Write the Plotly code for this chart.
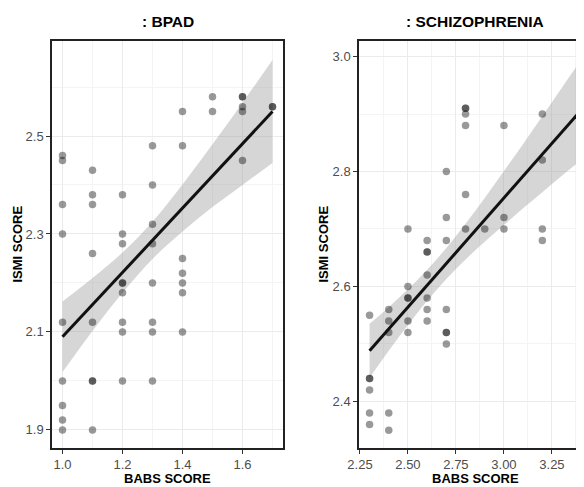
import plotly.graph_objects as go

# ---------------- data ----------------
bpad_x = [1.0]*9 + [1.1]*8 + [1.2]*9 + [1.3]*8 + [1.4]*7 + [1.5]*2 + [1.6]*5 + [1.7]*2
bpad_y = [2.46, 2.45, 2.36, 2.30, 2.12, 2.00, 1.95, 1.92, 1.90,
          2.43, 2.38, 2.36, 2.26, 2.12, 2.00, 2.00, 1.90,
          2.38, 2.30, 2.28, 2.20, 2.20, 2.18, 2.12, 2.10, 2.00,
          2.48, 2.40, 2.32, 2.28, 2.20, 2.12, 2.10, 2.00,
          2.55, 2.48, 2.25, 2.22, 2.20, 2.18, 2.10,
          2.58, 2.55,
          2.58, 2.58, 2.56, 2.55, 2.45,
          2.56, 2.56]

schiz_x = [2.3]*6 + [2.4]*5 + [2.5]*6 + [2.6]*7 + [2.7]*7 + [2.8]*6 + [2.9]*1 + [3.0]*3 + [3.2]*4 + [3.4]*1
schiz_y = [2.55, 2.44, 2.44, 2.42, 2.38, 2.36,
           2.56, 2.54, 2.52, 2.38, 2.35,
           2.70, 2.60, 2.58, 2.58, 2.54, 2.52,
           2.68, 2.66, 2.66, 2.62, 2.58, 2.56, 2.54,
           2.80, 2.72, 2.68, 2.56, 2.52, 2.52, 2.50,
           2.91, 2.91, 2.90, 2.88, 2.76, 2.70,
           2.70,
           2.88, 2.72, 2.70,
           2.90, 2.82, 2.70, 2.68,
           2.66]

# fitted line and confidence band
bpad_fit_x = [1.0, 1.1, 1.2, 1.3, 1.4, 1.5, 1.6, 1.7]
bpad_fit_y = [2.090, 2.156, 2.221, 2.287, 2.353, 2.419, 2.484, 2.550]
bpad_fit_lo = [2.018, 2.102, 2.180, 2.249, 2.305, 2.355, 2.400, 2.445]
bpad_fit_hi = [2.162, 2.210, 2.262, 2.325, 2.401, 2.483, 2.568, 2.655]

schiz_fit_x = [2.3, 2.4, 2.5, 2.6, 2.7, 2.8, 2.9, 3.0, 3.1, 3.2, 3.3, 3.4]
schiz_fit_y = [2.488, 2.526, 2.564, 2.602, 2.640, 2.678, 2.716, 2.754, 2.792, 2.830, 2.868, 2.906]
schiz_fit_lo = [2.441, 2.488, 2.533, 2.575, 2.613, 2.647, 2.678, 2.707, 2.736, 2.764, 2.792, 2.819]
schiz_fit_hi = [2.535, 2.564, 2.595, 2.629, 2.667, 2.709, 2.754, 2.801, 2.848, 2.896, 2.945, 2.993]

panel_titles = [": BPAD", ": SCHIZOPHRENIA"]
x_title = "BABS SCORE"
y_title = "ISMI SCORE"

# ---------------- figure ----------------
# the page body adds an 8px margin, so the figure is laid out in page
# coordinates shifted by OFF and sized to end at the window edge
OFF = 8
W, H = 584 - OFF, 487 - OFF
FONT = "Liberation Sans, Arial, Helvetica, sans-serif"
fig = go.Figure()

point_color = "rgba(0,0,0,0.40)"
band_color = "rgba(153,153,153,0.40)"

def px_x(p):
    return (p - OFF) / W

def px_y(p):
    return 1 - (p - OFF) / H

def add_panel(xs, ys, fx, fy, flo, fhi, xa, ya):
    fig.add_trace(go.Scatter(x=fx, y=flo, mode="lines", line=dict(width=0, shape="spline"),
                             hoverinfo="skip", showlegend=False, xaxis=xa, yaxis=ya))
    fig.add_trace(go.Scatter(x=fx, y=fhi, mode="lines", line=dict(width=0, shape="spline"),
                             fill="tonexty", fillcolor=band_color,
                             hoverinfo="skip", showlegend=False, xaxis=xa, yaxis=ya))
    fig.add_trace(go.Scatter(x=xs, y=ys, mode="markers",
                             marker=dict(size=7.5, color=point_color, line=dict(width=0)),
                             showlegend=False, xaxis=xa, yaxis=ya))
    fig.add_trace(go.Scatter(x=fx, y=fy, mode="lines", line=dict(color="#111111", width=3),
                             showlegend=False, xaxis=xa, yaxis=ya))

add_panel(bpad_x, bpad_y, bpad_fit_x, bpad_fit_y, bpad_fit_lo, bpad_fit_hi, "x", "y")
add_panel(schiz_x, schiz_y, schiz_fit_x, schiz_fit_y, schiz_fit_lo, schiz_fit_hi, "x2", "y2")

ydom = [px_y(448), px_y(41)]
tickfont = dict(family=FONT, size=13, color="#4d4d4d")
common = dict(showgrid=True, gridcolor="#ebebeb", gridwidth=1, zeroline=False,
              showline=True, linecolor="#222222", linewidth=1.5,
              ticks="outside", ticklen=4, tickwidth=1, tickcolor="#333333",
              tickfont=tickfont, automargin=False, ticklabelstandoff=0)
minor = dict(showgrid=True, gridcolor="#f4f4f4", gridwidth=0.6, ticks="")

fig.update_layout(
    width=W, height=H,
    margin=dict(l=0, r=0, t=0, b=0),
    paper_bgcolor="white", plot_bgcolor="white",
    font=dict(family=FONT),
    showlegend=False,
    xaxis=dict(domain=[px_x(52), px_x(283)], range=[0.965, 1.735], tickmode="linear", tick0=1.0,
               dtick=0.2, tickformat=".1f", mirror=True,
               minor=dict(minor, tick0=1.1, dtick=0.2), anchor="y", **common),
    yaxis=dict(domain=ydom, range=[1.863, 2.694], tickmode="linear", tick0=1.9, dtick=0.2,
               tickformat=".1f", mirror=True,
               minor=dict(minor, tick0=2.0, dtick=0.2), anchor="x", **common),
    xaxis2=dict(domain=[px_x(359), 1.0], range=[2.245, 3.417], tickmode="linear", tick0=2.25,
                dtick=0.25, tickformat=".2f", mirror=True,
                minor=dict(minor, tick0=2.375, dtick=0.25), anchor="y2", **common),
    yaxis2=dict(domain=ydom, range=[2.319, 3.027], tickmode="linear", tick0=2.4, dtick=0.2,
                tickformat=".1f", mirror=False,
                minor=dict(minor, tick0=2.5, dtick=0.2), anchor="x2", **common),
)

title_font = dict(family=FONT, size=15.5, color="#000000")
axis_font = dict(family=FONT, size=13, color="#000000")
ann = []
centers = [px_x(167.5), px_x(475)]
ylab_x = [px_x(17), px_x(323)]
for i in range(2):
    ann.append(dict(text="<b>%s</b>" % panel_titles[i], x=centers[i], y=px_y(22),
                    xref="paper", yref="paper", xanchor="center", yanchor="middle",
                    showarrow=False, font=title_font))
    ann.append(dict(text="<b>%s</b>" % x_title, x=centers[i], y=px_y(478),
                    xref="paper", yref="paper", xanchor="center", yanchor="middle",
                    showarrow=False, font=axis_font))
    ann.append(dict(text="<b>%s</b>" % y_title, x=ylab_x[i], y=px_y(244.5),
                    xref="paper", yref="paper", xanchor="center", yanchor="middle",
                    textangle=-90, showarrow=False, font=axis_font))
fig.update_layout(annotations=ann)

fig.write_html("out.html")
